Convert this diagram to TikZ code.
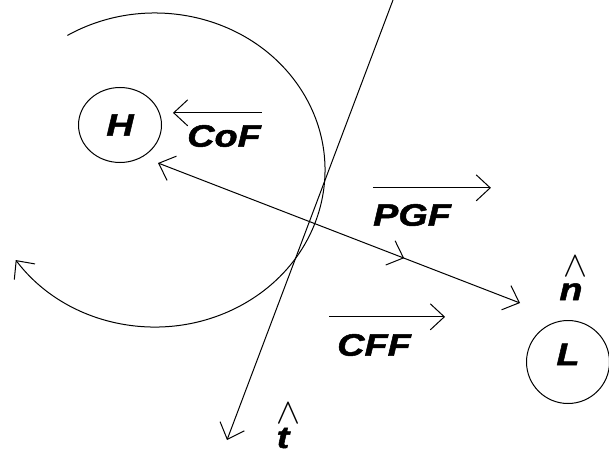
\documentclass[tikz,border=0pt]{standalone}
\usepackage{fix-cm}
\usepackage{fontspec}
\usepackage{tikz}
\usetikzlibrary{shapes.geometric, arrows.meta, positioning, decorations.markings}
\newfontfamily\lbl[FakeStretch=1.22, FakeBold=1.6]{Liberation Sans Bold Italic}
\tikzset{
    body/.style={
        ellipse, draw=black, line width=1pt, inner sep=0pt,
        minimum width=83pt, minimum height=75pt,
        font=\lbl\fontsize{31}{31}\selectfont
    },
    force/.style={
        inner sep=0pt, font=\lbl\fontsize{31}{31}\selectfont
    },
    caret/.style={
        inner sep=0pt, font=\fontsize{36}{36}\selectfont
    },
    vec/.style={
        -{Straight Barb[length=14pt, width=26pt]}, line width=1pt, draw=black
    },
    twoway/.style={
        {Straight Barb[length=14pt, width=26pt]}-{Straight Barb[length=14pt, width=26pt]},
        line width=1pt, draw=black
    },
    midarrow/.style={
        postaction={decorate},
        decoration={markings,
            mark=at position #1 with {\arrow{Straight Barb[length=14pt, width=26pt]}}}
    }
}
\begin{document}
\begin{tikzpicture}[x=1pt, y=1pt]
    \useasboundingbox (0,0) rectangle (609,453);

    % ── Bodies ──
    \node[body]                                        (high) at (120,328) {H};
    \node[body, minimum height=83pt,
          text height=23pt, text depth=17pt]           (low)  at (568,91)  {L};

    % ── Force labels ──
    \node[force] (cof) at (224,317) {CoF};
    \node[force] (pgf) at (412,238) {PGF};
    \node[force] (cff) at (374,108) {CFF};

    % ── Unit vectors ──
    \node[force, anchor=base,
          label={[caret, label distance=6pt, xshift=4pt]above:$\wedge$}] (nhat) at (571,153) {n};
    \node[force, anchor=base,
          label={[caret, label distance=4pt, xshift=5pt]above:$\wedge$}] (that) at (283,5) {t};

    % ── Anchor points ──
    \coordinate (centre) at (155,283);
    \coordinate (ttop)   at (393,453);
    \coordinate (ttip)   at (227,13);
    \coordinate (gradh)  at (158,290);
    \coordinate (gradl)  at (520,150);

    % ── Arrows ──
    \draw[vec] ([shift={(1,12)}]cof.north east)  -- ++(-89,0);
    \draw[vec] ([shift={(0,16)}]pgf.north west)  -- ++(118,0);
    \draw[vec] ([shift={(-8,17)}]cff.north west) -- ++(116,0);

    \draw[vec] (ttop) -- (ttip);
    \draw[twoway, midarrow=0.68] (gradh) -- (gradl);

    \draw[vec] (centre) ++(121:170 and 157)
        arc[start angle=121, end angle=-145, x radius=170, y radius=157];

\end{tikzpicture}
\end{document}
